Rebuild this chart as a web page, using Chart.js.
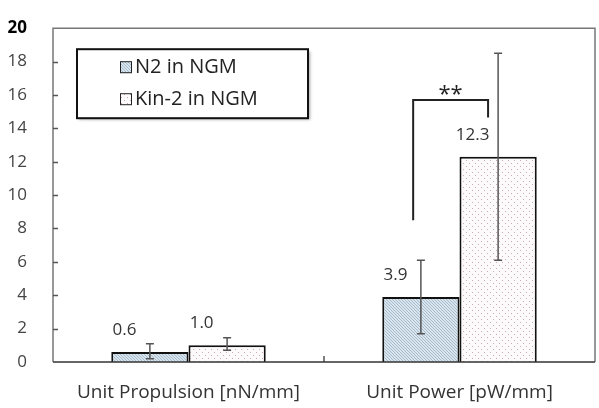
<!DOCTYPE html>
<html>
<head>
<meta charset="utf-8">
<script src="https://cdn.jsdelivr.net/npm/chart.js@4.4.1/dist/chart.umd.min.js"></script>
<style>
  body { margin: 0; background: #fff; }
  #wrap { width: 599px; height: 408px; }
</style>
</head>
<body>
<div id="wrap"><canvas id="chart" width="599" height="408"></canvas></div>
<script>
// data
const categories = ["Unit Propulsion [nN/mm]", "Unit Power [pW/mm]"];
const seriesNames = ["N2 in NGM", "Kin-2 in NGM"];
const n2Values = [0.6, 3.9];
const kin2Values = [1.0, 12.3];
const n2ErrLow = [0.2, 1.7];
const n2ErrHigh = [1.1, 6.1];
const kin2ErrLow = [0.7, 6.1];
const kin2ErrHigh = [1.45, 18.5];
// significance bracket over "Unit Power": top, left foot, right foot
const bracketLevels = [15.7, 8.5, 14.65];
const bracketText = "**";

const FONT = "'Open Sans', sans-serif";

function hatchPattern() {
  const c = document.createElement("canvas");
  c.width = 3; c.height = 3;
  const g = c.getContext("2d");
  g.fillStyle = "#d9e5ee";
  g.fillRect(0, 0, 3, 3);
  g.fillStyle = "#a8bccc";
  g.fillRect(0, 0, 1, 1);
  g.fillRect(1, 1, 1, 1);
  g.fillRect(2, 2, 1, 1);
  return document.getElementById("chart").getContext("2d").createPattern(c, "repeat");
}

function dotPattern() {
  const c = document.createElement("canvas");
  c.width = 6; c.height = 6;
  const g = c.getContext("2d");
  g.fillStyle = "#fcfafa";
  g.fillRect(0, 0, 6, 6);
  g.fillStyle = "#cdaab2";
  g.fillRect(1, 1, 1, 1);
  g.fillRect(4, 4, 1, 1);
  return document.getElementById("chart").getContext("2d").createPattern(c, "repeat");
}

const fills = [hatchPattern(), dotPattern()];
const errLow = [n2ErrLow, kin2ErrLow];
const errHigh = [n2ErrHigh, kin2ErrHigh];

// frame, inner ticks, legend box, error bars, value labels, bracket
const decorations = {
  id: "decorations",
  beforeDatasetsDraw(chart) {
    const { ctx, chartArea: a, scales: { y } } = chart;
    ctx.save();
    ctx.strokeStyle = "#777";
    ctx.lineWidth = 1.5;
    ctx.beginPath();
    ctx.moveTo(a.left, a.bottom);
    ctx.lineTo(a.left, a.top);
    ctx.lineTo(a.right, a.top);
    ctx.lineTo(a.right, a.bottom);
    ctx.stroke();
    ctx.strokeStyle = "#555";
    ctx.beginPath();
    y.ticks.forEach(t => {
      if (t.value === 0 || t.value === 20) return;
      const py = Math.round(y.getPixelForValue(t.value)) + 0.5;
      ctx.moveTo(a.left, py);
      ctx.lineTo(a.left + 5, py);
    });
    ctx.stroke();
    // category separator tick
    const mid = (a.left + a.right) / 2;
    ctx.beginPath();
    ctx.moveTo(mid, a.bottom);
    ctx.lineTo(mid, a.bottom - 6);
    ctx.stroke();
    ctx.restore();
  },
  afterDatasetsDraw(chart) {
    const { ctx, chartArea: a, scales: { y } } = chart;
    ctx.save();
    // x axis line
    ctx.strokeStyle = "#333";
    ctx.lineWidth = 1.5;
    ctx.beginPath();
    ctx.moveTo(a.left, a.bottom);
    ctx.lineTo(a.right, a.bottom);
    ctx.stroke();

    // error bars
    ctx.strokeStyle = "#555";
    ctx.lineWidth = 1.5;
    chart.data.datasets.forEach((ds, di) => {
      chart.getDatasetMeta(di).data.forEach((bar, i) => {
        const top = y.getPixelForValue(errHigh[di][i]);
        const bot = y.getPixelForValue(errLow[di][i]);
        ctx.beginPath();
        ctx.moveTo(bar.x, top); ctx.lineTo(bar.x, bot);
        ctx.moveTo(bar.x - 4, top); ctx.lineTo(bar.x + 4, top);
        ctx.moveTo(bar.x - 4, bot); ctx.lineTo(bar.x + 4, bot);
        ctx.stroke();
      });
    });

    // value labels
    ctx.fillStyle = "#333";
    ctx.font = "17px " + FONT;
    ctx.textAlign = "center";
    ctx.textBaseline = "middle";
    chart.data.datasets.forEach((ds, di) => {
      chart.getDatasetMeta(di).data.forEach((bar, i) => {
        const w = bar.width;
        ctx.fillText(ds.data[i].toFixed(1), bar.x - w * 0.33, bar.y - 22);
      });
    });

    // significance bracket
    const b0 = chart.getDatasetMeta(0).data[1];
    const b1 = chart.getDatasetMeta(1).data[1];
    const xl = b0.x - b0.width * 0.1;
    const xr = b1.x - b1.width * 0.13;
    const yt = y.getPixelForValue(bracketLevels[0]);
    ctx.strokeStyle = "#222";
    ctx.lineWidth = 2;
    ctx.beginPath();
    ctx.moveTo(xl, y.getPixelForValue(bracketLevels[1]));
    ctx.lineTo(xl, yt);
    ctx.lineTo(xr, yt);
    ctx.lineTo(xr, y.getPixelForValue(bracketLevels[2]));
    ctx.stroke();
    ctx.fillStyle = "#222";
    ctx.font = "22px " + FONT;
    ctx.textBaseline = "top";
    ctx.fillText(bracketText, (xl + xr) / 2, yt - 16);

    // legend box
    const lx = a.left + 24, ly = a.top + 21, lw = 231, lh = 69;
    ctx.shadowColor = "rgba(0,0,0,0.35)";
    ctx.shadowOffsetX = 2;
    ctx.shadowOffsetY = 2;
    ctx.shadowBlur = 3;
    ctx.fillStyle = "#fff";
    ctx.fillRect(lx, ly, lw, lh);
    ctx.shadowColor = "transparent";
    ctx.strokeStyle = "#111";
    ctx.lineWidth = 2;
    ctx.strokeRect(lx, ly, lw, lh);
    ctx.font = "20px " + FONT;
    ctx.textAlign = "left";
    ctx.textBaseline = "middle";
    chart.data.datasets.forEach((ds, di) => {
      const cy = ly + 18 + di * 32;
      const sx = lx + 43;
      ctx.fillStyle = fills[di];
      ctx.fillRect(sx, cy - 6, 12, 12);
      ctx.strokeStyle = "#222";
      ctx.lineWidth = 1;
      ctx.strokeRect(sx + 0.5, cy - 5.5, 11, 11);
      ctx.fillStyle = "#222";
      ctx.fillText(ds.label, sx + 15, cy);
    });
    ctx.restore();
  }
};

new Chart(document.getElementById("chart"), {
  type: "bar",
  data: {
    labels: categories,
    datasets: [
      {
        label: seriesNames[0],
        data: n2Values,
        backgroundColor: fills[0],
        borderColor: "#111",
        borderWidth: 2,
      },
      {
        label: seriesNames[1],
        data: kin2Values,
        backgroundColor: fills[1],
        borderColor: "#111",
        borderWidth: 2,
      },
    ],
  },
  options: {
    responsive: false,
    animation: false,
    categoryPercentage: 0.57,
    barPercentage: 1.0,
    layout: { padding: { top: 16, right: 4, left: 0, bottom: 0 } },
    plugins: {
      legend: { display: false },
      tooltip: { enabled: false },
    },
    scales: {
      x: {
        grid: { display: false },
        border: { display: false },
        ticks: {
          color: "#333",
          font: { family: FONT, size: 19 },
          padding: 11,
        },
        afterFit(scale) { scale.height = 46; },
      },
      y: {
        min: 0,
        max: 20,
        grid: { display: false },
        border: { display: false },
        ticks: {
          stepSize: 2,
          padding: 18,
          color: (c) => (c.tick.value === 20 ? "#000" : "#444"),
          font: (c) => ({
            family: FONT,
            size: 17,
            weight: c.tick && c.tick.value === 20 ? "bold" : "normal",
          }),
        },
        afterFit(scale) { scale.width = 53; },
      },
    },
  },
  plugins: [decorations],
});
</script>
</body>
</html>
